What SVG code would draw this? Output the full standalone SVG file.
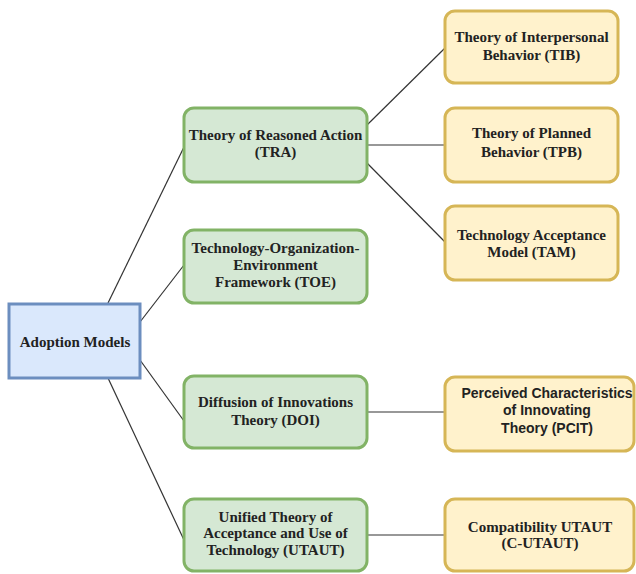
<svg xmlns="http://www.w3.org/2000/svg" width="636" height="574" viewBox="0 0 636 574">
<style>
.bg{fill:#ffffff}
.blue{fill:#dae8fc;stroke:#6c8ebf;stroke-width:3}
.green{fill:#d5e8d4;stroke:#82b366;stroke-width:3}
.yellow{fill:#fff2cc;stroke:#d6b656;stroke-width:3}
.t{font-family:"Liberation Serif","Times New Roman",serif;font-weight:bold;font-size:15px;fill:#222;text-anchor:middle}
.s{font-family:"Liberation Sans",Arial,sans-serif;font-weight:bold;font-size:14px;fill:#222;text-anchor:middle}
.c{stroke:#333;stroke-width:1.2;fill:none}
</style>
<rect class="bg" x="0" y="0" width="636" height="574"/>
<g id="connectors">
<line class="c" x1="108" y1="303" x2="184" y2="147"/>
<line class="c" x1="140" y1="322" x2="184" y2="265"/>
<line class="c" x1="140" y1="360" x2="184" y2="421"/>
<line class="c" x1="108" y1="378" x2="184" y2="540"/>
<line class="c" x1="367" y1="125" x2="445" y2="48"/>
<line class="c" x1="367" y1="145" x2="445" y2="145"/>
<line class="c" x1="367" y1="163" x2="445" y2="242"/>
<line class="c" x1="367" y1="412" x2="445" y2="412"/>
<line class="c" x1="367" y1="535" x2="445" y2="535"/>
</g>
<g id="adoption">
<rect class="blue" x="9" y="304" width="131" height="74"/>
<text class="t" x="75" y="347">Adoption Models</text>
</g>
<g id="tra">
<rect class="green" x="184" y="108" width="183" height="74" rx="10"/>
<text class="t" x="275.5" y="140">Theory of Reasoned Action</text>
<text class="t" x="275.5" y="157">(TRA)</text>
</g>
<g id="toe">
<rect class="green" x="184" y="230" width="183" height="73" rx="10"/>
<text class="t" x="275.5" y="253">Technology-Organization-</text>
<text class="t" x="275.5" y="270">Environment</text>
<text class="t" x="275.5" y="287">Framework (TOE)</text>
</g>
<g id="doi">
<rect class="green" x="184" y="376" width="183" height="72" rx="10"/>
<text class="t" x="275.5" y="407">Diffusion of Innovations</text>
<text class="t" x="275.5" y="425">Theory (DOI)</text>
</g>
<g id="utaut">
<rect class="green" x="184" y="499" width="183" height="72" rx="10"/>
<text class="t" x="275.5" y="522">Unified Theory of</text>
<text class="t" x="275.5" y="538">Acceptance and Use of</text>
<text class="t" x="275.5" y="555">Technology (UTAUT)</text>
</g>
<g id="tib">
<rect class="yellow" x="445" y="11" width="173" height="72" rx="10"/>
<text class="t" x="531.5" y="42">Theory of Interpersonal</text>
<text class="t" x="531.5" y="60">Behavior (TIB)</text>
</g>
<g id="tpb">
<rect class="yellow" x="445" y="108" width="173" height="74" rx="10"/>
<text class="t" x="531.5" y="138">Theory of Planned</text>
<text class="t" x="531.5" y="157">Behavior (TPB)</text>
</g>
<g id="tam">
<rect class="yellow" x="445" y="206" width="173" height="74" rx="10"/>
<text class="t" x="531.5" y="240">Technology Acceptance</text>
<text class="t" x="531.5" y="257">Model (TAM)</text>
</g>
<g id="pcit">
<rect class="yellow" x="445" y="377" width="189" height="74" rx="10"/>
<text class="s" x="547" y="398">Perceived Characteristics</text>
<text class="s" x="547" y="415">of Innovating</text>
<text class="s" x="547" y="433">Theory (PCIT)</text>
</g>
<g id="cutaut">
<rect class="yellow" x="445" y="499" width="189" height="72" rx="10"/>
<text class="t" x="540" y="532">Compatibility UTAUT</text>
<text class="t" x="540" y="548">(C-UTAUT)</text>
</g>
</svg>
